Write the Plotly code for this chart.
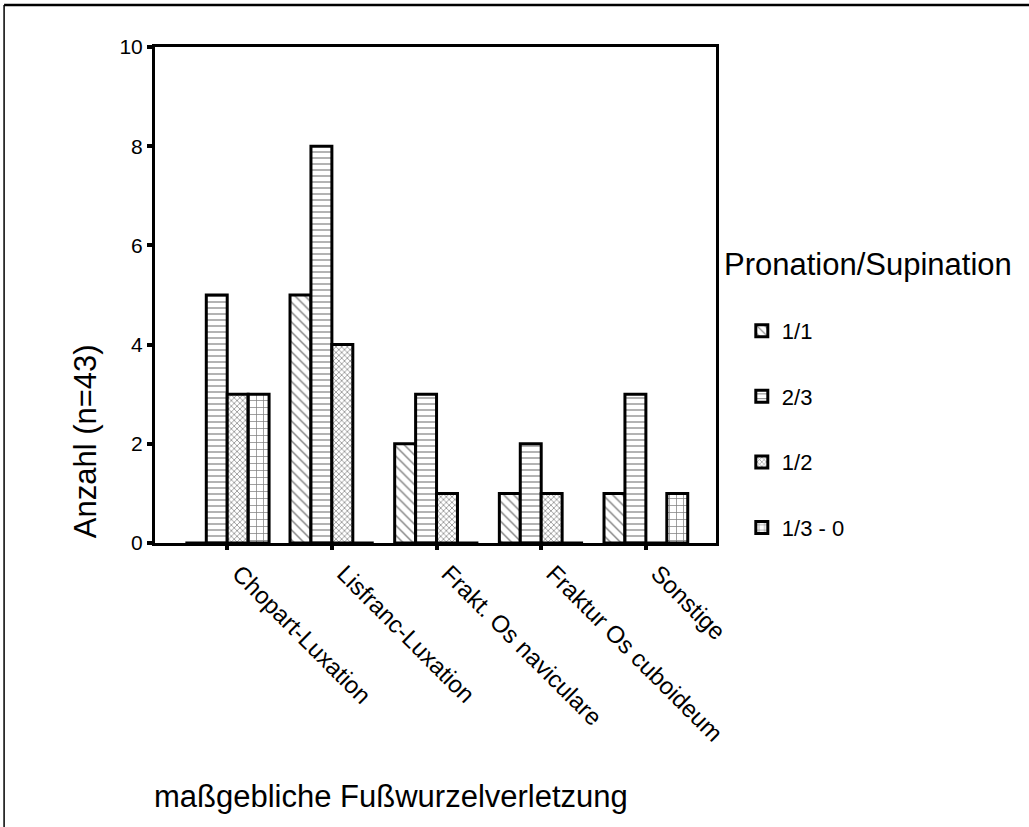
import plotly.graph_objects as go

categories = ["Chopart-Luxation", "Lisfranc-Luxation", "Frakt. Os naviculare",
              "Fraktur Os cuboideum", "Sonstige"]
series_names = ["1/1", "2/3", "1/2", "1/3 - 0"]
v_1_1 = [0, 5, 2, 1, 1]
v_2_3 = [5, 8, 3, 2, 3]
v_1_2 = [3, 4, 1, 1, 0]
v_1_3_0 = [3, 0, 0, 0, 1]
y_ticks = [0, 2, 4, 6, 8, 10]

values = [v_1_1, v_2_3, v_1_2, v_1_3_0]
patterns = [
    dict(shape="\\", size=7, solidity=0.2, fgcolor="black", bgcolor="white"),
    dict(shape="-", size=6, solidity=0.2, fgcolor="black", bgcolor="white"),
    dict(shape="x", size=4, solidity=0.4, fgcolor="#333333", bgcolor="white"),
    dict(shape="+", size=7, solidity=0.2, fgcolor="black", bgcolor="white"),
]

FONT = "Liberation Sans, Arial, Helvetica, sans-serif"

fig = go.Figure()
for name, vals, pat in zip(series_names, values, patterns):
    fig.add_trace(go.Bar(
        x=list(range(len(categories))), y=vals, name=name, legendgroup=name,
        marker=dict(color="white", pattern=pat,
                    line=dict(color="black", width=3)),
    ))

fig.update_layout(
    width=1029, height=827,
    margin=dict(l=155, r=313, t=47, b=284),
    paper_bgcolor="white", plot_bgcolor="white",
    barmode="group", bargap=0.2, bargroupgap=0,
    font=dict(family=FONT, color="black", size=21),
    showlegend=True,
    legend=dict(
        x=1.046, xanchor="left", y=0.47, yanchor="top",
        font=dict(size=22), traceorder="grouped", tracegroupgap=34,
        bgcolor="rgba(0,0,0,0)",
    ),
)
fig.update_xaxes(
    range=[-0.69, 4.67],
    tickmode="array", tickvals=list(range(len(categories))), ticktext=categories,
    tickangle=45, ticks="outside", ticklen=4, tickwidth=4, tickcolor="black",
    ticklabelshift=12, ticklabelstandoff=0,
    showline=True, linecolor="black", linewidth=3, mirror=True,
    showgrid=False, zeroline=False, tickfont=dict(size=24),
)
fig.update_yaxes(
    range=[0, 10], tickmode="array", tickvals=y_ticks,
    ticks="outside", ticklen=5, tickwidth=4, tickcolor="black",
    showline=True, linecolor="black", linewidth=3, mirror=True,
    showgrid=False, zeroline=False, tickfont=dict(size=21),
)

fig.add_annotation(text="Anzahl (n=43)", textangle=-90, xref="paper", yref="paper",
                   x=-0.125, y=0.205, xanchor="center", yanchor="middle",
                   showarrow=False, font=dict(size=31))
fig.add_annotation(text="maßgebliche Fußwurzelverletzung", xref="paper", yref="paper",
                   x=-0.005, y=-0.512, xanchor="left", yanchor="middle",
                   showarrow=False, font=dict(size=31))
fig.add_annotation(text="Pronation/Supination", xref="paper", yref="paper",
                   x=1.0107, y=0.5605, xanchor="left", yanchor="middle",
                   showarrow=False, font=dict(size=31))

# outer frame
fig.add_shape(type="line", xref="paper", yref="paper", x0=-0.269, x1=1.6,
              y0=1.0847, y1=1.0847, line=dict(color="black", width=2.5))
fig.add_shape(type="line", xref="paper", yref="paper", x0=-0.269, x1=-0.269,
              y0=1.0847, y1=-0.7, line=dict(color="black", width=1.5))

fig.write_html("out.html", config={"displayModeBar": False},
               post_script="document.body.style.margin='0';document.body.style.overflow='hidden';")
